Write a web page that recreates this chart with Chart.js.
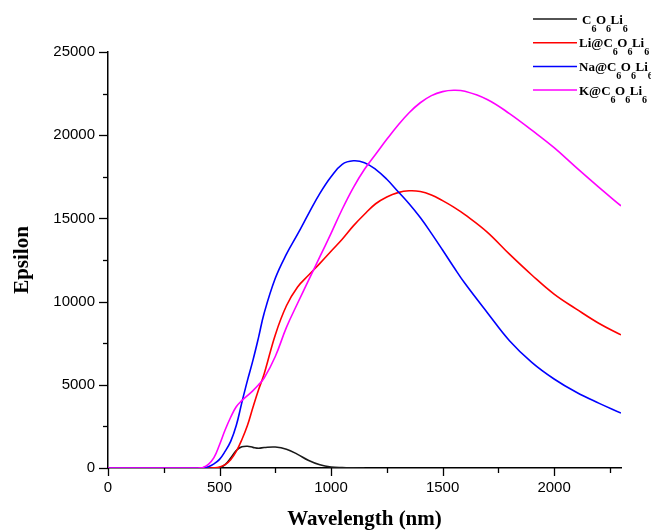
<!DOCTYPE html>
<html>
<head>
<meta charset="utf-8">
<script src="https://cdn.jsdelivr.net/npm/chart.js@4"></script>
<style>
  html, body { margin: 0; padding: 0; background: #fff; }
  #wrap { width: 651px; height: 532px; position: relative; }
</style>
</head>
<body>
<div id="wrap"><canvas id="chart-epsilon"></canvas></div>
<script>
// wavelength grid (nm) shared by all series
const wavelengths = [0, 400, 425, 450, 475, 500, 525, 550, 575, 600, 625, 650, 675, 700, 750, 800, 850, 900, 950, 1000, 1050, 1100, 1150, 1200, 1250, 1300, 1350, 1400, 1450, 1500, 1550, 1600, 1700, 1800, 1900, 2000, 2100, 2200, 2300];

// epsilon values
const c6o6li6 = [0, 0, 0, 0, 0, 15, 200, 600, 1050, 1270, 1310, 1240, 1190, 1230, 1260, 1130, 820, 450, 190, 60, 20, 5, 0, null, null, null, null, null, null, null, null, null, null, null, null, null, null, null, null];
const liC6o6li6 = [0, 0, 0, 0, 10, 60, 200, 500, 1000, 1700, 2550, 3650, 4700, 5650, 8000, 9750, 10880, 11600, 12300, 13030, 13750, 14550, 15250, 15880, 16290, 16550, 16660, 16620, 16410, 16070, 15680, 15230, 14180, 12850, 11600, 10450, 9550, 8700, 8000];
const naC6o6li6 = [0, 0, 10, 80, 250, 520, 1000, 1600, 2550, 3930, 5250, 6480, 7850, 9300, 11400, 12850, 14050, 15300, 16500, 17500, 18250, 18460, 18350, 17950, 17350, 16620, 15880, 15050, 14100, 13100, 12080, 11100, 9350, 7650, 6350, 5350, 4550, 3900, 3300];
const kC6o6li6 = [0, 0, 30, 220, 620, 1400, 2280, 3050, 3680, 4050, 4350, 4650, 5000, 5400, 6700, 8450, 9900, 11300, 12700, 14100, 15550, 16850, 17950, 18850, 19750, 20600, 21350, 21950, 22380, 22620, 22700, 22640, 22150, 21300, 20300, 19250, 18050, 16880, 15750];

const seriesLabels = ["C6O6Li6", "Li@C6O6Li6", "Na@C6O6Li6", "K@C6O6Li6"];
const seriesColors = ["#1a1a1a", "#ff0000", "#0000ff", "#ff00ff"];
const seriesValues = [c6o6li6, liC6o6li6, naC6o6li6, kC6o6li6];

// axis ranges and tick positions (labels only on the majors)
const xMax = 2300;
const yMax = 25000;
const xTicks = [0, 250, 500, 750, 1000, 1250, 1500, 1750, 2000, 2250];
const yTicks = [0, 2500, 5000, 7500, 10000, 12500, 15000, 17500, 20000, 22500, 25000];

const toPoints = (vals) =>
  wavelengths.map((w, i) => ({ x: w, y: vals[i] })).filter((p) => p.y !== null);

// outward tick marks, major ones longer
const axisTicks = {
  id: "axisTicks",
  afterDraw(chart) {
    const ctx = chart.ctx;
    const xs = chart.scales.x;
    const ys = chart.scales.y;
    ctx.save();
    ctx.strokeStyle = "#000";
    ctx.lineWidth = 1.3;
    xs.ticks.forEach((t) => {
      const px = Math.round(xs.getPixelForValue(t.value)) + 0.5;
      const len = t.value % 500 === 0 ? 8 : 5;
      ctx.beginPath();
      ctx.moveTo(px, ys.bottom);
      ctx.lineTo(px, ys.bottom + len);
      ctx.stroke();
    });
    ys.ticks.forEach((t) => {
      const py = Math.round(ys.getPixelForValue(t.value)) + 0.5;
      const len = t.value % 5000 === 0 ? 9 : 5;
      ctx.beginPath();
      ctx.moveTo(xs.left, py);
      ctx.lineTo(xs.left - len, py);
      ctx.stroke();
    });
    ctx.restore();
  },
};

// legend in the top right corner, digits drawn as subscripts
const subLegend = {
  id: "subLegend",
  afterDraw(chart) {
    const ctx = chart.ctx;
    ctx.save();
    chart.data.datasets.forEach((ds, i) => {
      const y = 19 + i * 23.7;
      ctx.strokeStyle = ds.borderColor;
      ctx.lineWidth = 1.5;
      ctx.beginPath();
      ctx.moveTo(533, y);
      ctx.lineTo(577, y);
      ctx.stroke();
      let x = i === 0 ? 582 : 579;
      ctx.fillStyle = "#000";
      ctx.textBaseline = "alphabetic";
      for (const ch of ds.label) {
        const sub = /[0-9]/.test(ch);
        ctx.font = sub ? "bold 10px 'Liberation Serif'" : "bold 13px 'Liberation Serif'";
        ctx.fillText(ch, x, sub ? y + 12.5 : y + 4.5);
        x += ctx.measureText(ch).width - (sub ? 0.5 : 0);
      }
    });
    ctx.restore();
  },
};

new Chart(document.getElementById("chart-epsilon"), {
  type: "line",
  data: {
    datasets: seriesLabels.map((label, i) => ({
      label,
      data: toPoints(seriesValues[i]),
      borderColor: seriesColors[i],
      borderWidth: 1.6,
      pointRadius: 0,
      fill: false,
      tension: 0.4,
      order: seriesLabels.length - i,
    })),
  },
  options: {
    responsive: true,
    maintainAspectRatio: false,
    animation: false,
    layout: { padding: { top: 52, right: 30, left: 0, bottom: 0 } },
    plugins: { legend: { display: false }, tooltip: { enabled: false } },
    scales: {
      x: {
        type: "linear",
        min: 0,
        max: xMax,
        afterFit: (s) => { s.height = 64; },
        afterBuildTicks: (s) => { s.ticks = xTicks.map((v) => ({ value: v })); },
        grid: { display: false, drawTicks: false },
        border: { display: true, color: "#000", width: 1.5 },
        ticks: {
          autoSkip: false,
          maxRotation: 0,
          padding: 11,
          color: "#000",
          font: { family: "'Liberation Sans', Arial", size: 15 },
          callback: (v) => (v % 500 === 0 ? String(v) : ""),
        },
        title: {
          display: true,
          text: "Wavelength (nm)",
          color: "#000",
          font: { family: "'Liberation Serif'", size: 21, weight: "bold" },
          padding: { top: 0, bottom: 0 },
        },
      },
      y: {
        type: "linear",
        min: 0,
        max: yMax,
        afterFit: (s) => { s.width = 108; },
        afterBuildTicks: (s) => { s.ticks = yTicks.map((v) => ({ value: v })); },
        grid: { display: false, drawTicks: false },
        border: { display: true, color: "#000", width: 1.5 },
        ticks: {
          autoSkip: false,
          padding: 13,
          color: "#000",
          font: { family: "'Liberation Sans', Arial", size: 15 },
          callback: (v) => (v % 5000 === 0 ? String(v) : ""),
        },
        title: {
          display: true,
          text: "Epsilon",
          color: "#000",
          font: { family: "'Liberation Serif'", size: 21, weight: "bold" },
          padding: { top: 10, bottom: 0 },
        },
      },
    },
  },
  plugins: [axisTicks, subLegend],
});
</script>
</body>
</html>
